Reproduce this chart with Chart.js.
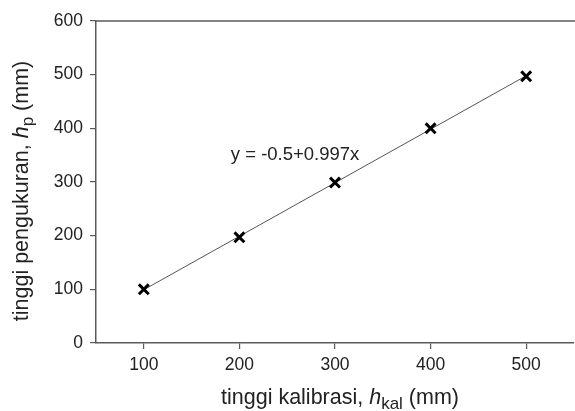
<!DOCTYPE html>
<html>
<head>
<meta charset="utf-8">
<script src="https://cdn.jsdelivr.net/npm/chart.js@4"></script>
<style>
  html, body { margin: 0; padding: 0; background: #fff; overflow: hidden; }
  #wrap { width: 584px; height: 411px; }
</style>
</head>
<body>
<div id="wrap"><canvas id="c" width="584" height="411"></canvas></div>
<script>
// measured points
const xCal = [100, 200, 300, 400, 500];
const yMeas = [100, 197, 299, 400, 497];
// regression line ends, y = -0.5+0.997x
const fitX = [100, 500];
const fitY = [99.2, 498];
const xTicks = [100, 200, 300, 400, 500];
const yTicks = [0, 100, 200, 300, 400, 500, 600];
const eqText = 'y = -0.5+0.997x';

const AXIS = '#5a5a5a';
const FONT = '"Liberation Sans", Arial, sans-serif';

// draws a title piece by piece: [text, style] with style 'n','i','sub'
function drawRich(ctx, parts, size){
  const fontFor = s => s === 'i' ? `italic ${size}px ${FONT}` : s === 'sub' ? `${Math.round(size*0.8)}px ${FONT}` : `${size}px ${FONT}`;
  let w = 0;
  parts.forEach(p => { ctx.font = fontFor(p[1]); w += ctx.measureText(p[0]).width; });
  let x = -w/2;
  parts.forEach(p => {
    ctx.font = fontFor(p[1]);
    ctx.fillText(p[0], x, p[1] === 'sub' ? size*0.28 : 0);
    x += ctx.measureText(p[0]).width;
  });
}

const extras = {
  id: 'extras',
  afterDraw(chart){
    const ctx = chart.ctx, a = chart.chartArea;
    const xs = chart.scales.x, ys = chart.scales.y;
    ctx.save();
    // top frame line
    ctx.strokeStyle = AXIS; ctx.lineWidth = 1.5;
    ctx.beginPath(); ctx.moveTo(a.left, a.top); ctx.lineTo(a.right + 5, a.top); ctx.stroke();
    ctx.fillStyle = '#222';
    ctx.textBaseline = 'middle';
    // equation
    ctx.font = `18.5px ${FONT}`;
    ctx.textAlign = 'left';
    ctx.fillText(eqText, xs.getPixelForValue(191), ys.getPixelForValue(350));
    // x title
    ctx.save();
    ctx.translate(340, 398);
    drawRich(ctx, [['tinggi kalibrasi, ', 'n'], ['h', 'i'], ['kal', 'sub'], [' (mm)', 'n']], 21.5);
    ctx.restore();
    // y title
    ctx.save();
    ctx.translate(22, 191);
    ctx.rotate(-Math.PI/2);
    drawRich(ctx, [['tinggi pengukuran, ', 'n'], ['h', 'i'], ['p', 'sub'], [' (mm)', 'n']], 21.5);
    ctx.restore();
    ctx.restore();
  }
};

new Chart(document.getElementById('c').getContext('2d'), {
  type: 'scatter',
  data: {
    datasets: [
      {
        label: 'fit',
        data: fitX.map((x, i) => ({ x: x, y: fitY[i] })),
        showLine: true,
        borderColor: '#555',
        borderWidth: 1,
        pointRadius: 0,
        order: 2
      },
      {
        label: 'data',
        data: xCal.map((x, i) => ({ x: x, y: yMeas[i] })),
        pointStyle: 'crossRot',
        pointRadius: 7,
        borderColor: '#000',
        backgroundColor: '#000',
        pointBorderWidth: 3,
        order: 1
      }
    ]
  },
  options: {
    responsive: false,
    animation: false,
    layout: { padding: { top: 21, right: 4, left: 0, bottom: 0 } },
    plugins: { legend: { display: false }, tooltip: { enabled: false } },
    scales: {
      x: {
        type: 'linear', min: 50, max: 550,
        afterBuildTicks: s => { s.ticks = xTicks.map(v => ({ value: v })); },
        afterFit: s => { s.height = 68; },
        grid: { drawOnChartArea: false, tickLength: 6, color: AXIS, lineWidth: 1.2 },
        border: { color: AXIS, width: 1.5 },
        ticks: { color: '#222', font: { family: FONT, size: 17.5 }, padding: 6 }
      },
      y: {
        type: 'linear', min: 0, max: 600,
        afterBuildTicks: s => { s.ticks = yTicks.map(v => ({ value: v })); },
        afterFit: s => { s.width = 96; },
        grid: { drawOnChartArea: false, tickLength: 6, color: AXIS, lineWidth: 1.2 },
        border: { color: AXIS, width: 1.5 },
        ticks: { color: '#222', font: { family: FONT, size: 17.5 }, padding: 7 }
      }
    }
  },
  plugins: [extras]
});
</script>
</body>
</html>
